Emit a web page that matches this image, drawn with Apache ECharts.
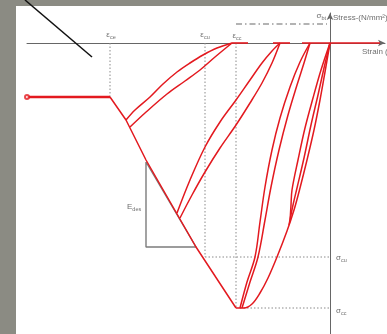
<!DOCTYPE html>
<html>
<head>
<meta charset="utf-8">
<script src="https://cdn.jsdelivr.net/npm/echarts@6/dist/echarts.min.js"></script>
<style>
  html, body { margin: 0; padding: 0; background: #8b8b83; }
  #chart { width: 387px; height: 334px; }
</style>
</head>
<body>
<div id="chart"></div>
<script>
// Strain in ‰ (compression to the left), stress in N/mm² (compression downwards)
const plateau = [[-3.03, -5.4], [-2.20, -5.4]];
const envelope = [[-2.20, -5.4], [-2.04, -7.7], [-1.84, -11.7], [-1.34, -20.4], [-0.94, -26.5]];

// first unloading / reloading loop
const loop1Upper = [[-2.04, -7.7], [-1.95, -6.7], [-1.80, -5.4], [-1.67, -4.1], [-1.53, -2.9],
  [-1.40, -2.0], [-1.27, -1.2], [-1.13, -0.5], [-0.98, 0]];
const loop1Lower = [[-2.00, -8.4], [-1.85, -7.0], [-1.63, -5.1], [-1.45, -3.8], [-1.30, -2.7],
  [-1.15, -1.4], [-0.98, 0]];

// second loop
const loop2Upper = [[-1.53, -17.0], [-1.40, -13.7], [-1.25, -10.4], [-1.10, -7.9], [-0.94, -5.7],
  [-0.80, -3.7], [-0.68, -2.0], [-0.58, -0.8], [-0.50, 0]];
const loop2Lower = [[-1.50, -17.5], [-1.38, -15.2], [-1.25, -12.9], [-1.10, -10.5], [-0.94, -8.2],
  [-0.80, -6.0], [-0.68, -4.0], [-0.58, -2.0], [-0.50, 0]];

// third loop, from the peak
const loop3Upper = [[-0.90, -26.5], [-0.83, -23.9], [-0.75, -21.4], [-0.70, -17.9], [-0.65, -14.4],
  [-0.58, -10.7], [-0.50, -7.5], [-0.40, -4.4], [-0.30, -1.9], [-0.20, 0]];
const loop3Lower = [[-0.88, -26.5], [-0.80, -23.9], [-0.72, -21.4], [-0.65, -17.7], [-0.59, -14.4],
  [-0.51, -10.7], [-0.42, -7.2], [-0.33, -4.2], [-0.26, -2.0], [-0.20, 0]];

// last loop, back to the origin
const loop4Main = [[-0.94, -26.5], [-0.86, -26.5], [-0.78, -26.1], [-0.70, -25.0], [-0.62, -23.5],
  [-0.53, -21.4], [-0.43, -18.8], [-0.36, -16.7], [-0.30, -14.5], [-0.23, -11.7], [-0.16, -8.7],
  [-0.10, -5.7], [-0.05, -2.9], [0, 0]];
const loop4Mid = [[-0.41, -18.2], [-0.37, -16.2], [-0.33, -14.5], [-0.26, -11.5], [-0.19, -8.2],
  [-0.12, -5.2], [-0.06, -2.5], [0, 0]];
const loop4Steep = [[-0.40, -17.9], [-0.39, -16.2], [-0.38, -14.7], [-0.32, -11.7], [-0.25, -8.5],
  [-0.17, -5.5], [-0.09, -2.7], [0, 0]];

// zero-stress stretches along the strain axis
const zeroStress = [
  [[-0.98, 0], [-0.82, 0]],
  [[-0.57, 0], [-0.40, 0]],
  [[-0.28, 0], [0.50, 0]]
];

// reference strains and stresses
const epsRef = [-2.20, -1.25, -0.94];
const sigmaCu = -21.4;
const sigmaCc = -26.5;
const sigmaBt = 1.9;
const plateauStress = -5.4;

// softening modulus triangle
const edesTriangle = [[-1.84, -11.9], [-1.84, -20.4], [-1.34, -20.4], [-1.84, -11.9]];

const RED = '#e3191f';
const GREY = '#8a8a8a';
const TXT = '#4a4a4a';

function curve(data, width) {
  return {
    type: 'line', data: data, showSymbol: false, smooth: 0.35, clip: false,
    lineStyle: { color: RED, width: width || 1.5 }, z: 5, silent: true
  };
}
function guide(data, type, color, width) {
  return {
    type: 'line', data: data, showSymbol: false, clip: false, silent: true,
    lineStyle: { color: color || GREY, width: width || 1, type: type }, z: 3
  };
}

const rich = {
  m: { fontSize: 8, color: TXT, fontFamily: 'Liberation Sans' },
  s: { fontSize: 5.5, color: TXT, fontFamily: 'Liberation Sans', padding: [4, 0, 0, 0] }
};
const labels = [
  { value: [epsRef[0] + 0.01, 0.8], text: '{m|ε}{s|ce}', align: 'center' },
  { value: [epsRef[1], 0.8], text: '{m|ε}{s|cu}', align: 'center' },
  { value: [epsRef[2] + 0.01, 0.7], text: '{m|ε}{s|cc}', align: 'center' },
  { value: [-0.04, 2.7], text: '{m|σ}{s|bt}', align: 'right' },
  { value: [0.03, 2.5], text: '{m|Stress-(N/mm²)}', align: 'left' },
  { value: [0.32, -0.9], text: '{m|Strain (‰)}', align: 'left' },
  { value: [0.06, sigmaCu - 0.1], text: '{m|σ}{s|cu}', align: 'left' },
  { value: [0.06, sigmaCc - 0.3], text: '{m|σ}{s|cc}', align: 'left' },
  { value: [-2.03, -16.4], text: '{m|E}{s|des}', align: 'left' }
];

const chart = echarts.init(document.getElementById('chart'), null, { renderer: 'canvas' });
chart.setOption({
  backgroundColor: '#8b8b83',
  animation: false,
  graphic: {
    elements: [
      { type: 'rect', z: -10, shape: { x: 16, y: 6, width: 371, height: 328 }, style: { fill: '#ffffff' } },
      { type: 'line', z: 100, shape: { x1: 25, y1: 0, x2: 92, y2: 57 }, style: { stroke: '#111', lineWidth: 1.5 } }
    ]
  },
  grid: { left: 27, right: 2, top: 13, bottom: 0 },
  xAxis: {
    type: 'value', min: -3.03, max: 0.55,
    axisLine: { onZero: true, lineStyle: { color: '#666', width: 1 }, symbol: ['none', 'arrow'], symbolSize: [5, 7] },
    axisTick: { show: false }, axisLabel: { show: false }, splitLine: { show: false }
  },
  yAxis: {
    type: 'value', min: -29.1, max: 3.0,
    axisLine: { onZero: true, lineStyle: { color: '#666', width: 1 }, symbol: ['none', 'arrow'], symbolSize: [5, 7] },
    axisTick: { show: false }, axisLabel: { show: false }, splitLine: { show: false }
  },
  series: [
    guide([[epsRef[0], 0], [epsRef[0], plateauStress]], [1.5, 2]),
    guide([[epsRef[1], 0], [epsRef[1], sigmaCu]], [1.5, 2]),
    guide([[epsRef[2], 0], [epsRef[2], sigmaCc]], [1.5, 2]),
    guide([[epsRef[1], sigmaCu], [0, sigmaCu]], [1.5, 2]),
    guide([[epsRef[2] + 0.04, sigmaCc], [0, sigmaCc]], [1.5, 2]),
    guide([[epsRef[2], sigmaBt], [-0.03, sigmaBt]], [6, 3, 1.5, 3], '#9a9a9a', 1.4),
    guide(edesTriangle, 'solid', '#7c7c7c', 1.4),
    curve(plateau, 2.4),
    Object.assign(curve(envelope, 1.5), { smooth: false }),
    curve(loop1Upper), curve(loop1Lower),
    curve(loop2Upper), curve(loop2Lower),
    curve(loop3Upper), curve(loop3Lower),
    curve(loop4Main), curve(loop4Mid), curve(loop4Steep)
  ].concat(zeroStress.map(function (seg) {
    return Object.assign(curve(seg, 1.6), { smooth: false });
  })).concat([
    {
      type: 'scatter', data: [plateau[0]], symbol: 'emptyCircle', symbolSize: 4,
      itemStyle: { color: RED, borderColor: RED, borderWidth: 1.5 }, z: 6, silent: true
    },
    {
      type: 'scatter', symbolSize: 0, silent: true, z: 7,
      data: labels.map(function (l) {
        return {
          value: l.value,
          label: { show: true, position: 'inside', formatter: l.text, rich: rich, align: l.align }
        };
      })
    }
  ])
});
</script>
</body>
</html>
